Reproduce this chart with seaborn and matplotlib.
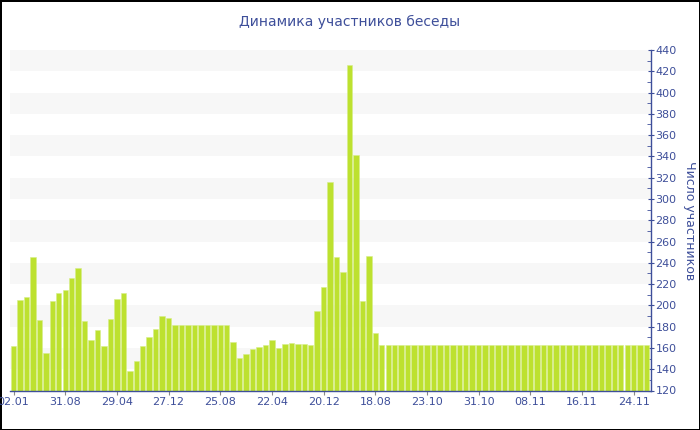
import numpy as np
import pandas as pd
import matplotlib
matplotlib.use('Agg')
import matplotlib.pyplot as plt
from matplotlib.ticker import MultipleLocator
import seaborn as sns

# data
participants = (
    [162, 205, 208, 245, 186, 155, 204, 212, 214, 226,
     235, 185, 167, 177, 162, 187, 206, 212, 138, 148,
     162, 170, 178, 190, 188, 182, 182, 182, 182, 182,
     182, 182, 182, 182, 166, 151, 154, 159, 161, 163,
     167, 160, 164, 165, 164, 164, 163, 195, 217, 316,
     245, 231, 426, 341, 204, 246, 174]
    + [163] * 42
)
tick_labels = ['02.01', '31.08', '29.04', '27.12', '25.08', '22.04', '20.12',
               '18.08', '23.10', '31.10', '08.11', '16.11', '24.11']
tick_step = 8

title = 'Динамика участников беседы'
ylabel = 'Число участников'

df = pd.DataFrame({'idx': np.arange(len(participants)), 'value': participants})

sns.set_style('white')
plt.rcParams['font.family'] = ['DejaVu Sans']

blue = '#3e4f9a'
bar_color = '#bde12f'

fig = plt.figure(figsize=(7, 4.3), dpi=100)
fig.patch.set_edgecolor('black')
fig.patch.set_linewidth(2)
ax = fig.add_axes([10 / 700, 1 - 390.5 / 430, 640.5 / 700, 340.5 / 430])

# alternating bands
for lo in range(140, 440, 40):
    ax.axhspan(lo, lo + 20, color='#f7f7f7', zorder=0, lw=0)

sns.barplot(data=df, x='idx', y='value', color=bar_color, saturation=1,
            width=0.84, edgecolor='#d6ee8a', linewidth=0.4, ax=ax, zorder=2)

ax.set_ylim(120, 440)
ax.set_xlim(-0.55, len(participants) - 0.4)

ax.yaxis.tick_right()
ax.yaxis.set_label_position('right')
ax.yaxis.set_major_locator(MultipleLocator(20))
ax.yaxis.set_minor_locator(MultipleLocator(10))
ax.tick_params(axis='y', which='major', direction='inout', length=5, width=0.8,
               colors=blue, labelsize=8, pad=1)
ax.tick_params(axis='y', which='minor', direction='in', length=3, width=0.6,
               color=blue, right=True, left=False)

ax.set_xticks(range(0, len(participants), tick_step))
ax.set_xticklabels(tick_labels)
ax.tick_params(axis='x', direction='out', length=3, width=0.8, color='#888888',
               labelcolor=blue, labelsize=8, pad=2, bottom=True)

ax.set_xlabel('')
ax.set_ylabel(ylabel, color=blue, fontsize=9, rotation=-90, labelpad=14)
fig.suptitle(title, color=blue, fontsize=10, x=0.5, y=1 - 22 / 430, va='center')

for side in ['top', 'left']:
    ax.spines[side].set_visible(False)
ax.spines['right'].set_color(blue)
ax.spines['bottom'].set_color(blue)
ax.spines['right'].set_linewidth(1)
ax.spines['bottom'].set_linewidth(1)

fig.savefig('out.png', dpi=100, edgecolor=fig.get_edgecolor())
